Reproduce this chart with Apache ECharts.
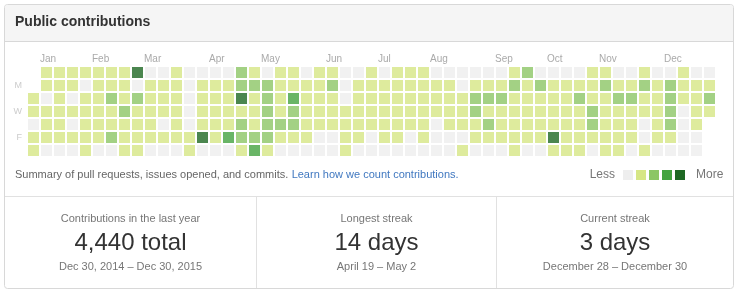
<!DOCTYPE html>
<html>
<head>
<meta charset="utf-8">
<script src="https://cdn.jsdelivr.net/npm/echarts@6/dist/echarts.min.js"></script>
<style>
html,body{margin:0;padding:0;background:#fff;}
#chart{width:739px;height:293px;}
</style>
</head>
<body>
<div id="chart"></div>
<script>
// ---- data: contribution level (0-4) per week column, one array per weekday row ----
const sun = [null,1,1,1,1,1,1,1,4,0, 0,1,0,0,0,0,2,1,0,1, 1,0,1,1,0,0,1,0,1,1, 1,0,0,0,0,0,0,1,2,0, 0,0,0,1,1,0,0,1,0,0, 1,0,0];
const mon = [null,1,1,1,0,1,1,1,0,1, 1,1,0,1,1,1,2,2,2,1, 1,1,1,2,0,1,1,1,1,1, 1,1,1,0,1,1,1,2,1,2, 1,1,1,1,2,1,1,2,1,2, 1,1,1];
const tue = [1,0,1,0,1,1,2,1,2,1, 1,1,0,1,1,1,4,1,2,1, 3,1,1,1,0,1,1,1,1,1, 1,1,1,1,2,2,2,1,1,1, 1,1,2,1,1,2,2,1,1,2, 1,1,2];
const wed = [1,1,1,1,1,1,1,2,1,1, 1,1,0,1,1,1,1,1,2,1, 2,1,1,1,1,1,1,1,1,1, 1,1,1,1,2,1,1,1,1,1, 1,1,1,2,1,1,1,1,1,2, 0,1,1];
const thu = [0,1,1,0,1,1,1,1,1,1, 0,1,0,1,1,1,2,1,2,2, 2,1,1,1,1,1,1,1,1,1, 1,0,1,1,1,2,1,1,1,1, 1,1,1,2,1,1,1,0,1,2, 0,1,null];
const fri = [1,1,1,1,1,1,2,1,1,1, 1,1,1,4,1,3,2,2,2,1, 1,1,0,0,1,1,0,1,1,0, 1,0,0,0,1,1,1,1,1,1, 4,1,1,1,1,1,1,0,1,1, 0,0,null];
const sat = [1,0,0,0,1,0,0,1,1,0, 0,0,1,0,0,0,1,3,1,0, 0,0,0,0,1,0,0,0,0,0, 0,0,0,1,0,0,0,1,0,0, 1,1,1,0,1,1,0,1,0,0, 0,0,null];

const dayNames = ['Sun','Mon','Tue','Wed','Thu','Fri','Sat'];
const dayLabels = ['', 'M', '', 'W', '', 'F', ''];
const monthLabels = ['Jan','Feb','Mar','Apr','May','Jun','Jul','Aug','Sep','Oct','Nov','Dec'];
const monthWeeks  = [1, 5, 9, 14, 18, 23, 27, 31, 36, 40, 44, 49];
const levels = [0, 1, 2, 3, 4];
const legendEnds = ['Less', 'More'];

const statTitles = ['Contributions in the last year', 'Longest streak', 'Current streak'];
const statValues = ['4,440 total', '14 days', '3 days'];
const statRanges = ['Dec 30, 2014 \u2013 Dec 30, 2015', 'April 19 \u2013 May 2', 'December 28 \u2013 December 30'];

// ---- build ----
const rows = [sun, mon, tue, wed, thu, fri, sat];
const weekCount = sun.length;
const weeks = Array.from({length: weekCount}, (_, i) => 'W' + i);
const cells = [];
rows.forEach((row, d) => row.forEach((v, w) => { if (v !== null) cells.push([w, d, v]); }));

const palette = ['#eeeeee', '#d6e685', '#8cc665', '#44a340', '#1e6823'];
const FONT = '"Liberation Sans", Arial, Helvetica, sans-serif';

const chart = echarts.init(document.getElementById('chart'), null, {renderer: 'canvas'});

const colLeft = [4.5, 256.5, 496.5, 733.5];
const statGraphics = [];
statTitles.forEach((t, i) => {
  const cx = (colLeft[i] + colLeft[i + 1]) / 2;
  statGraphics.push({type: 'text', x: cx, y: 219, style: {text: t, align: 'center', verticalAlign: 'middle', fill: '#767676', font: '11px ' + FONT}});
  statGraphics.push({type: 'text', x: cx, y: 243, style: {text: statValues[i], align: 'center', verticalAlign: 'middle', fill: '#333', font: '24px ' + FONT}});
  statGraphics.push({type: 'text', x: cx, y: 267, style: {text: statRanges[i], align: 'center', verticalAlign: 'middle', fill: '#767676', font: '11px ' + FONT}});
});

chart.setOption({
  animation: false,
  grid: {left: 27, top: 66, width: 13 * weekCount, height: 91, containLabel: false},
  xAxis: [
    {type: 'category', data: weeks, show: false, boundaryGap: true},
    {type: 'value', min: 0, max: weekCount, position: 'top',
     axisLine: {show: false}, axisTick: {show: false}, splitLine: {show: false},
     axisLabel: {customValues: monthWeeks, formatter: v => monthLabels[monthWeeks.indexOf(v)] || '',
                 align: 'left', margin: 2, color: '#aaa', fontSize: 10, fontFamily: FONT}}
  ],
  yAxis: {type: 'category', data: dayNames, inverse: true,
    axisLine: {show: false}, axisTick: {show: false}, splitLine: {show: false},
    axisLabel: {formatter: (v, i) => dayLabels[i], interval: 0, margin: 5, color: '#ccc', fontSize: 9, fontFamily: FONT}},
  visualMap: {
    type: 'piecewise', seriesIndex: 0, dimension: 2,
    pieces: levels.map(l => ({value: l, color: palette[l]})),
    orient: 'horizontal', left: 623, top: 170, padding: 0,
    itemWidth: 10, itemHeight: 10, itemGap: 3, itemSymbol: 'rect',
    showLabel: false, selectedMode: false, hoverLink: false
  },
  series: [{
    type: 'scatter', xAxisIndex: 0, yAxisIndex: 0,
    symbol: 'rect', symbolSize: 11, data: cells,
    emphasis: {disabled: true}, silent: true
  }],
  graphic: [
    {type: 'rect', z: -10, shape: {x: 4.5, y: 4.5, width: 729, height: 284, r: 3}, style: {fill: '#fff', stroke: '#d8d8d8', lineWidth: 1}},
    {type: 'rect', z: -9, shape: {x: 5, y: 5, width: 728, height: 36, r: [3, 3, 0, 0]}, style: {fill: '#f5f5f5'}},
    {type: 'line', z: -8, shape: {x1: 5, y1: 41.5, x2: 733, y2: 41.5}, style: {stroke: '#d8d8d8', lineWidth: 1}},
    {type: 'line', z: -8, shape: {x1: 5, y1: 196.5, x2: 733, y2: 196.5}, style: {stroke: '#e1e1e1', lineWidth: 1}},
    {type: 'line', z: -8, shape: {x1: 256.5, y1: 197, x2: 256.5, y2: 288}, style: {stroke: '#e1e1e1', lineWidth: 1}},
    {type: 'line', z: -8, shape: {x1: 496.5, y1: 197, x2: 496.5, y2: 288}, style: {stroke: '#e1e1e1', lineWidth: 1}},
    {type: 'text', x: 15, y: 22, style: {text: 'Public contributions', verticalAlign: 'middle', fill: '#333', font: 'bold 14px ' + FONT}},
    {type: 'text', x: 15, y: 175, style: {
      text: '{a|Summary of pull requests, issues opened, and commits.} {b|Learn how we count contributions.}',
      verticalAlign: 'middle',
      rich: {a: {fill: '#666', font: '11px ' + FONT}, b: {fill: '#4078c0', font: '11px ' + FONT}}
    }},
    {type: 'text', x: 615, y: 175, style: {text: legendEnds[0], align: 'right', verticalAlign: 'middle', fill: '#767676', font: '12px ' + FONT}},
    {type: 'text', x: 696, y: 175, style: {text: legendEnds[1], align: 'left', verticalAlign: 'middle', fill: '#767676', font: '12px ' + FONT}}
  ].concat(statGraphics)
});
</script>
</body>
</html>
